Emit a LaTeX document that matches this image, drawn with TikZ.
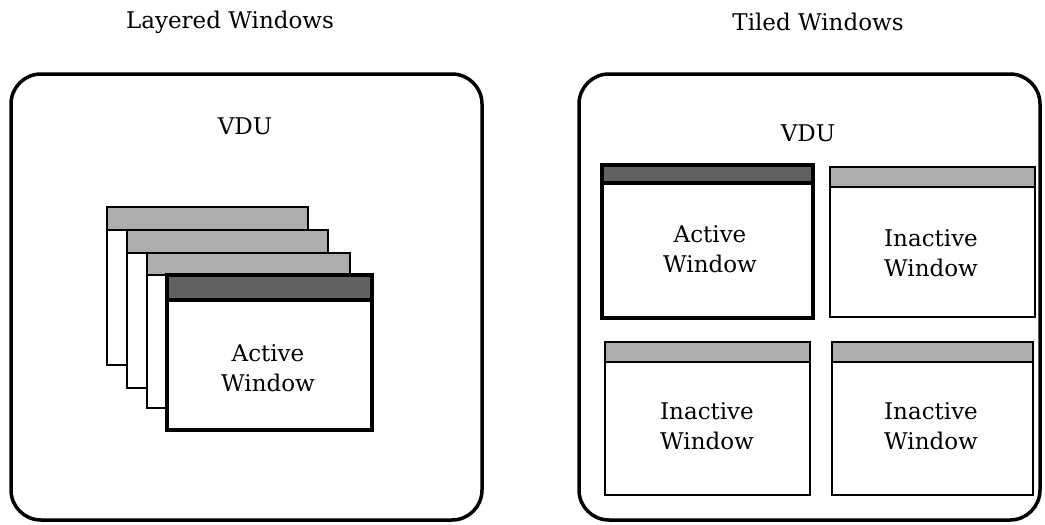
\documentclass[tikz,border=0pt]{standalone}
\usepackage{fontspec}
\setmainfont{DejaVu Serif}
\begin{document}
\begin{tikzpicture}[x=1pt,y=-1pt,
  vdu/.style={draw=black, line width=3.5pt, rounded corners=30pt},
  inwin/.style={draw=black, fill=white, line width=1.8pt, anchor=north west, inner sep=0pt, outer sep=0pt},
  actwin/.style={draw=black, fill=white, line width=3.6pt, anchor=north west, inner sep=0pt, outer sep=0pt},
  inbar/.style={fill=black!32, draw=black, line width=1.8pt, anchor=north west, inner sep=0pt, outer sep=0pt},
  actbar/.style={fill=black!62, draw=black, line width=3.6pt, anchor=north west, inner sep=0pt, outer sep=0pt},
  lbl/.style={font=\fontsize{23}{30}\selectfont, align=center, inner sep=0pt},
]
\useasboundingbox (0,0) rectangle (1045,525);

% headings
\node[lbl] (hl) at (230,22) {Layered Windows};
\node[lbl] (ht) at (818,22) {Tiled Windows};

% VDU frames
\draw[vdu] (11,74) rectangle (482,520);
\draw[vdu] (579,74) rectangle (1040,520);
\node[lbl] (vl) at (245,126) {VDU};
\node[lbl] (vr) at (808,133) {VDU};

% layered windows
\node[inwin, minimum width=201pt, minimum height=158pt] (w1) at (107,207) {};
\node[inbar, minimum width=201pt, minimum height=23pt] (b1) at (w1.north west) {};
\node[inwin, minimum width=201pt, minimum height=158pt] (w2) at (127,230) {};
\node[inbar, minimum width=201pt, minimum height=23pt] (b2) at (w2.north west) {};
\node[inwin, minimum width=203pt, minimum height=155pt] (w3) at (147,253) {};
\node[inbar, minimum width=203pt, minimum height=22pt] (b3) at (w3.north west) {};
\node[actwin, minimum width=205pt, minimum height=155pt] (w4) at (167,275) {};
\node[actbar, minimum width=205pt, minimum height=25pt] (b4) at (w4.north west) {};
\node[lbl] (t4) at (268,368) {Active\\Window};

% tiled windows
\node[actwin, minimum width=211pt, minimum height=153pt] (ta) at (602,165) {};
\node[actbar, minimum width=211pt, minimum height=18pt] (tab) at (ta.north west) {};
\node[lbl] (tat) at (710,249) {Active\\Window};

\node[inwin, minimum width=205pt, minimum height=150pt] (tb) at (830,167) {};
\node[inbar, minimum width=205pt, minimum height=20pt] (tbb) at (tb.north west) {};
\node[lbl] (tbt) at (931,253) {Inactive\\Window};

\node[inwin, minimum width=205pt, minimum height=153pt] (tc) at (605,342) {};
\node[inbar, minimum width=205pt, minimum height=20pt] (tcb) at (tc.north west) {};
\node[lbl] (tct) at (707,426) {Inactive\\Window};

\node[inwin, minimum width=201pt, minimum height=153pt] (td) at (832,342) {};
\node[inbar, minimum width=201pt, minimum height=20pt] (tdb) at (td.north west) {};
\node[lbl] (tdt) at (931,426) {Inactive\\Window};
\end{tikzpicture}
\end{document}
